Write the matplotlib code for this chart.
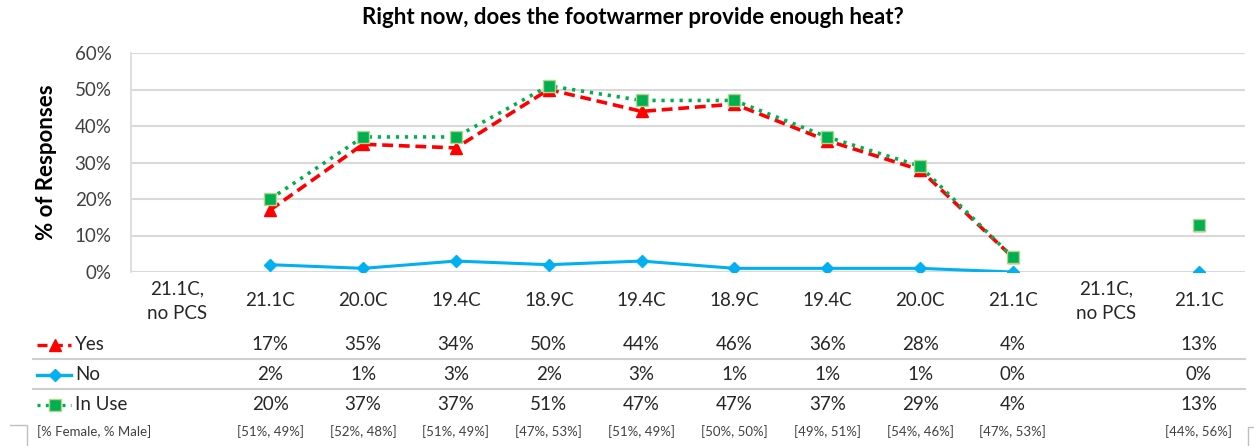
import numpy as np
import matplotlib
matplotlib.use("Agg")
import matplotlib.pyplot as plt
import matplotlib.transforms as mtrans
from matplotlib.lines import Line2D

plt.rcParams['font.family'] = ['Lato', 'DejaVu Sans']

categories = ["21.1C,\nno PCS", "21.1C", "20.0C", "19.4C", "18.9C", "19.4C",
              "18.9C", "19.4C", "20.0C", "21.1C", "21.1C,\nno PCS", "21.1C"]
yes = [np.nan, 17, 35, 34, 50, 44, 46, 36, 28, 4, np.nan, 13]
no = [np.nan, 2, 1, 3, 2, 3, 1, 1, 1, 0, np.nan, 0]
in_use = [np.nan, 20, 37, 37, 51, 47, 47, 37, 29, 4, np.nan, 13]
gender = ["", "[51%, 49%]", "[52%, 48%]", "[51%, 49%]", "[47%, 53%]", "[51%, 49%]",
          "[50%, 50%]", "[49%, 51%]", "[54%, 46%]", "[47%, 53%]", "", "[44%, 56%]"]
yticks = [0, 10, 20, 30, 40, 50, 60]

W, H = 1254, 446
fig = plt.figure(figsize=(W / 100, H / 100), dpi=100)

def fx(x):
    return x / W

def fy(y):
    return 1 - y / H

ax = fig.add_axes([fx(131), fy(272), fx(1245) - fx(131), fy(53) - fy(272)])
x = np.arange(len(categories))

RED = "#ff0000"
BLUE = "#00b0f0"
GREEN = "#00b050"
GEDGE = "#b5d48f"
FS = 13.5

ax.plot(x, np.array(yes) / 100, color=RED, ls=(0, (3, 1.6)), lw=2.6,
        marker="^", ms=8, mfc=RED, mec=RED, zorder=3)
ax.plot(x, np.array(no) / 100, color=BLUE, ls="-", lw=2.2,
        marker="D", ms=6.5, mfc=BLUE, mec=BLUE, zorder=3)
ax.plot(x, np.array(in_use) / 100, color=GREEN, ls=(0, (0.9, 1.6)), lw=2.6,
        marker="s", ms=8, mfc=GREEN, mec=GEDGE, mew=1, zorder=4)

ax.set_xlim(-0.5, len(categories) - 0.5)
ax.set_ylim(0, 0.6)
ax.set_yticks([v / 100 for v in yticks])
ax.set_yticklabels([f"{v}%" for v in yticks], fontsize=FS, color="#404040")
ax.set_xticks([])
ax.grid(axis="y", color="#d9d9d9", lw=1.5)
ax.set_axisbelow(True)
for s in ["top", "right", "bottom"]:
    ax.spines[s].set_visible(False)
ax.spines["left"].set_color("#d9d9d9")
ax.spines["left"].set_linewidth(1.2)
ax.tick_params(axis="y", length=0, pad=14)
ax.yaxis.set_label_coords(fx(47), 0.5, transform=mtrans.blended_transform_factory(fig.transFigure, ax.transAxes))
ax.set_ylabel("% of Responses", fontsize=16, fontweight="bold", va="center")

fig.text(fx(633), fy(18), "Right now, does the footwarmer provide enough heat?",
         ha="center", va="center", fontsize=16, fontweight="bold", color="#000000")

bt = mtrans.blended_transform_factory(ax.transData, fig.transFigure)
TXT = "#262626"
for i, c in enumerate(categories):
    ax.text(i, fy(301), c, transform=bt, ha="center", va="center",
            fontsize=FS, color=TXT, linespacing=1.55)
    if not np.isnan(yes[i]):
        ax.text(i, fy(345), f"{yes[i]:.0f}%", transform=bt, ha="center", va="center",
                fontsize=FS, color=TXT)
    if not np.isnan(no[i]):
        ax.text(i, fy(375), f"{no[i]:.0f}%", transform=bt, ha="center", va="center",
                fontsize=FS, color=TXT)
    if not np.isnan(in_use[i]):
        ax.text(i, fy(405), f"{in_use[i]:.0f}%", transform=bt, ha="center", va="center",
                fontsize=FS, color=TXT)
    if gender[i]:
        ax.text(i, fy(432), gender[i], transform=bt, ha="center", va="center",
                fontsize=9.5, color="#404040")

# row labels with legend keys
rows = [("Yes", 345, RED, (0, (3, 1.6)), "^", RED, RED, 8),
        ("No", 375, BLUE, "-", "D", BLUE, BLUE, 6.5),
        ("In Use", 405, GREEN, (0, (0.9, 1.6)), "s", GREEN, GEDGE, 8)]
for label, yy, col, ls, mk, mfc, mec, ms in rows:
    fig.add_artist(Line2D([fx(37), fx(71)], [fy(yy), fy(yy)], color=col, ls=ls, lw=2.4,
                          transform=fig.transFigure))
    fig.add_artist(Line2D([fx(55)], [fy(yy)], color=col, marker=mk, ms=ms, mfc=mfc, mec=mec,
                          transform=fig.transFigure))
    fig.text(fx(75), fy(yy), label, ha="left", va="center", fontsize=FS, color=TXT)
fig.text(fx(37), fy(432), "[% Female, % Male]", ha="left", va="center", fontsize=9.5, color="#404040")

# separators
for yy in [359, 389]:
    fig.add_artist(Line2D([fx(33), fx(1245)], [fy(yy), fy(yy)], color="#cfcfcf", lw=1.5,
                          transform=fig.transFigure))

# partial frames at bottom corners
fig.add_artist(Line2D([fx(10), fx(27), fx(27)], [fy(425), fy(425), fy(446)], color="#bfbfbf",
                      lw=1, transform=fig.transFigure))
fig.add_artist(Line2D([fx(1248), fx(1248), fx(1254)], [fy(446), fy(427), fy(427)], color="#bfbfbf",
                      lw=1, transform=fig.transFigure))

fig.savefig("out.png", dpi=100)
